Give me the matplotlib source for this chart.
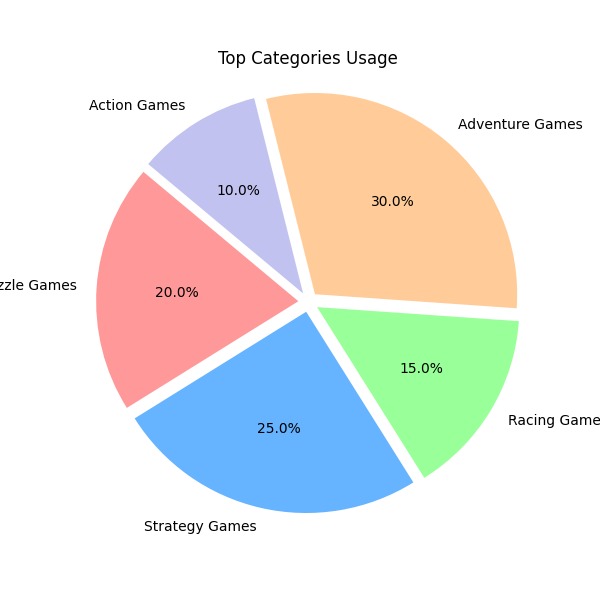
import matplotlib.pyplot as plt

categories = ['Puzzle Games', 'Strategy Games', 'Racing Games', 'Adventure Games', 'Action Games']
usage = [20, 25, 15, 30, 10]
colors = ['#ff9999', '#66b3ff', '#99ff99', '#ffcc99', '#c2c2f0']
explode = (0.05, 0.05, 0.05, 0.05, 0.05)

fig, ax = plt.subplots(figsize=(6, 6))
ax.pie(usage, labels=categories, colors=colors, explode=explode,
       autopct='%1.1f%%', startangle=140)
ax.set_title('Top Categories Usage')
ax.axis('equal')

plt.savefig('out.png')
